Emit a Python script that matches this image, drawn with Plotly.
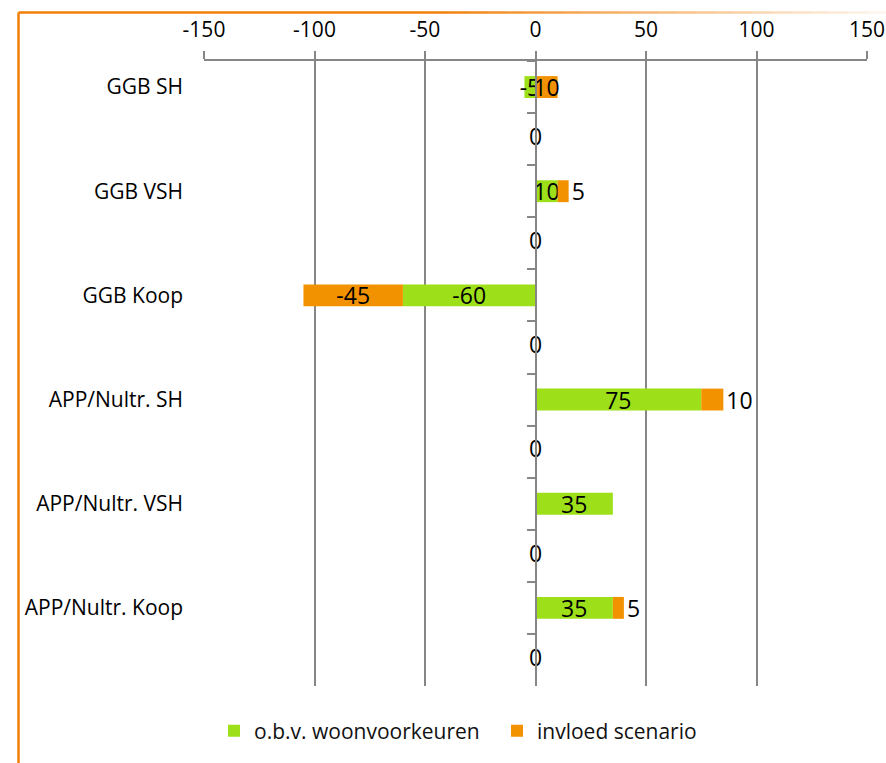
import plotly.graph_objects as go

# Rows of the chart: each housing type is followed by an empty spacer row
row_keys = ["r0", "r1", "r2", "r3", "r4", "r5", "r6", "r7", "r8", "r9", "r10", "r11"]
row_labels = ["GGB SH", "", "GGB VSH", "", "GGB Koop", "",
              "APP/Nultr. SH", "", "APP/Nultr. VSH", "", "APP/Nultr. Koop", ""]

# Housing types (rows that carry bars)
bar_rows = ["r0", "r2", "r4", "r6", "r8", "r10"]
woonvoorkeuren = [-5, 10, -60, 75, 35, 35]
scenario = [10, 5, -45, 10, 0, 5]
scenario_label_pos = ["inside", "outside", "inside", "outside", "none", "outside"]

# Spacer rows carry a zero value with its label
zero_rows = ["r1", "r3", "r5", "r7", "r9", "r11"]
zero_vals = [0, 0, 0, 0, 0, 0]

x_ticks = [-150, -100, -50, 0, 50, 100, 150]

GREEN = "#9de01a"
ORANGE = "#f39200"
GRID = "#868686"
FRAME = "#f07f09"
FONT = "Open Sans"
FS = 21      # axis and legend text
FS_DATA = 23  # value labels

fig = go.Figure()

fig.add_trace(go.Bar(
    y=bar_rows, x=woonvoorkeuren, orientation="h",
    name="o.b.v. woonvoorkeuren", marker=dict(color=GREEN, line=dict(width=0)),
    text=[str(v) if v else "" for v in woonvoorkeuren],
    textposition="inside", insidetextanchor="middle", textangle=0,
    constraintext="none", cliponaxis=False,
    textfont=dict(family=FONT, size=FS_DATA, color="black"),
    hoverinfo="x+name", legendwidth=238,
))
fig.add_trace(go.Bar(
    y=bar_rows, x=scenario, orientation="h",
    name="invloed scenario", marker=dict(color=ORANGE, line=dict(width=0)),
    text=[str(v) if v else "" for v in scenario],
    textposition=scenario_label_pos, insidetextanchor="middle", textangle=0,
    constraintext="none", cliponaxis=False,
    textfont=dict(family=FONT, size=FS_DATA, color="black"),
    hoverinfo="x+name",
))
fig.add_trace(go.Scatter(
    y=zero_rows, x=zero_vals, mode="text",
    text=[str(v) for v in zero_vals], textposition="middle center",
    textfont=dict(family=FONT, size=FS_DATA, color="black"),
    showlegend=False, cliponaxis=False, hoverinfo="skip",
))
# Helper on the secondary category axis, so the centre axis knows every row
fig.add_trace(go.Scatter(
    y=row_keys, x=[0] * len(row_keys), yaxis="y2", mode="markers",
    marker=dict(opacity=0, size=1), showlegend=False, hoverinfo="skip",
))

# Plot area in pixels, used to place the orange frame in paper units
W, H = 886, 763
L, R, T, B = 204, 19, 61, 77
pw, ph = W - L - R, H - T - B


def px_x(p):
    return (p - L) / pw


def px_y(p):
    return (H - B - p) / ph


shapes = [dict(type="line", xref="paper", yref="paper",
               x0=px_x(18.5), x1=px_x(18.5), y0=px_y(12.5), y1=px_y(H + 5),
               line=dict(color=FRAME, width=2.5), layer="above")]
# Top frame edge fades out towards the right
shapes.append(dict(type="line", xref="paper", yref="paper",
                   x0=px_x(18.5), x1=px_x(430), y0=px_y(12.5), y1=px_y(12.5),
                   line=dict(color=FRAME, width=2.5), layer="above"))
steps = 24
for i in range(steps):
    a = 430 + (W - 430) * i / steps
    b = 430 + (W - 430) * (i + 1) / steps
    op = max(0.05, 1 - (i + 0.5) / steps * 0.95)
    shapes.append(dict(type="line", xref="paper", yref="paper",
                       x0=px_x(a), x1=px_x(b), y0=px_y(12.5), y1=px_y(12.5),
                       line=dict(color=FRAME, width=2.5), opacity=op, layer="above"))

fig.update_layout(
    width=W, height=H,
    margin=dict(l=L, r=R, t=T, b=B, autoexpand=False),
    paper_bgcolor="white", plot_bgcolor="white",
    barmode="relative", bargap=0.58,
    font=dict(family=FONT, size=FS, color="black"),
    showlegend=True,
    legend=dict(orientation="h", x=px_x(458), xanchor="center",
                y=px_y(731), yanchor="middle",
                font=dict(family=FONT, size=FS, color="#111111"),
                itemclick=False, traceorder="normal"),
    xaxis=dict(
        side="top", range=[-150, 150],
        tickvals=x_ticks, ticktext=[str(v) for v in x_ticks],
        showgrid=True, gridcolor=GRID, gridwidth=2,
        zeroline=False, showline=True, linecolor=GRID, linewidth=2,
        ticks="outside", ticklen=8, tickwidth=2, tickcolor=GRID,
        ticklabelstandoff=6, automargin=False,
        tickfont=dict(family=FONT, size=FS, color="black"),
    ),
    yaxis=dict(
        type="category", categoryorder="array", categoryarray=row_keys,
        tickvals=row_keys, ticktext=row_labels,
        range=[len(row_keys) - 0.5, -0.5],
        showgrid=False, zeroline=False, showline=False, ticks="",
        ticklabelstandoff=20, automargin=False,
        tickfont=dict(family=FONT, size=FS, color="black"),
    ),
    yaxis2=dict(
        type="category", categoryorder="array", categoryarray=row_keys,
        overlaying="y", anchor="free", position=0.5, side="left",
        range=[len(row_keys) - 0.5, -0.5],
        showgrid=False, zeroline=False, automargin=False,
        showline=True, linecolor=GRID, linewidth=2,
        ticks="outside", ticklen=8, tickwidth=2, tickcolor=GRID,
        tickson="boundaries", showticklabels=False,
    ),
    shapes=shapes,
)

fig.write_html("out.html")
